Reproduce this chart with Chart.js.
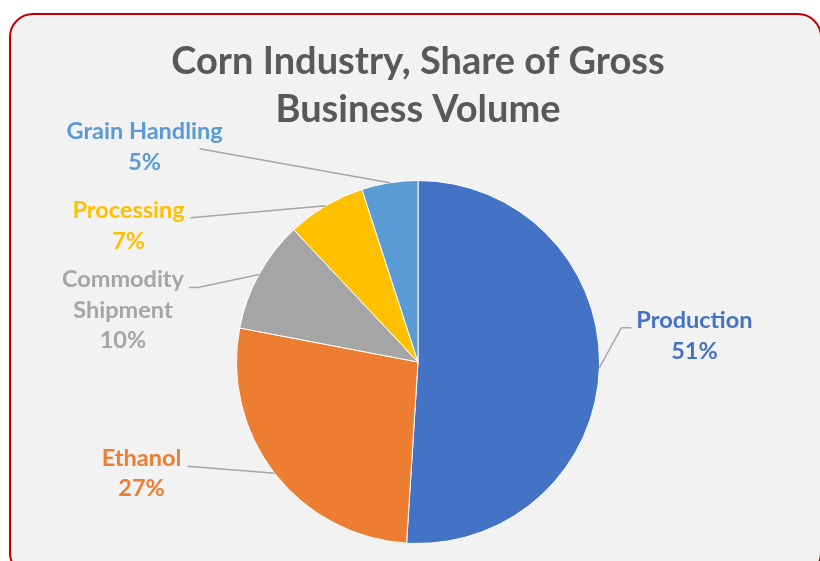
<!DOCTYPE html>
<html>
<head>
<meta charset="utf-8">
<script src="https://cdn.jsdelivr.net/npm/chart.js@4.4.0/dist/chart.umd.min.js"></script>
<style>
  html, body { margin: 0; padding: 0; background: #ffffff; overflow: hidden; }
  #wrap { position: relative; width: 820px; height: 561px; }
  #frame {
    position: absolute; left: 9px; top: 13px; width: 809px; height: 560px;
    border: 2.5px solid #C00000; border-radius: 24px; background: #F2F2F2;
  }
  #c { position: absolute; left: 0; top: 0; }
</style>
</head>
<body>
<div id="wrap">
  <div id="frame"></div>
  <canvas id="c" width="820" height="561"></canvas>
</div>
<script>
// ---- data ----
const categories = ['Production', 'Ethanol', 'Commodity Shipment', 'Processing', 'Grain Handling'];
const shares = [51, 27, 10, 7, 5];
const labelLines = [['Production'], ['Ethanol'], ['Commodity', 'Shipment'], ['Processing'], ['Grain Handling']];
const titleLines = ['Corn Industry, Share of Gross', 'Business Volume'];

// ---- styles ----
const sliceColors = ['#4472C4', '#ED7D31', '#A5A5A5', '#FFC000', '#5B9BD5'];
// label placement relative to the slice's outer edge point at its mid angle
// text: centre of first text line; path: leader points from label toward the edge
const labelPlacement = [
  { text: [95, -47],   path: [[32, -40], [22, -40]] },
  { text: [-133, -15], path: [[-87, -7]] },
  { text: [-136, 5],   path: [[-70, 13], [-61, 13]] },
  { text: [-197, 5],   path: [[-135, 12]] },
  { text: [-245, -51], path: [[-190, -34]] }
];

const labelPlugin = {
  id: 'pieLabels',
  afterDatasetsDraw(chart) {
    const ctx = chart.ctx;
    const meta = chart.getDatasetMeta(0);
    // title
    const cx = (chart.chartArea.left + chart.chartArea.right) / 2;
    ctx.save();
    ctx.fillStyle = '#595959';
    ctx.font = 'bold 38px Lato';
    ctx.textAlign = 'center';
    ctx.textBaseline = 'middle';
    titleLines.forEach((t, i) => ctx.fillText(t, cx, 62 + i * 48));
    ctx.restore();

    meta.data.forEach((arc, i) => {
      const p = arc.getProps(['x', 'y', 'startAngle', 'endAngle', 'outerRadius'], true);
      const mid = (p.startAngle + p.endAngle) / 2;
      const ex = p.x + Math.cos(mid) * p.outerRadius;
      const ey = p.y + Math.sin(mid) * p.outerRadius;
      const pl = labelPlacement[i];
      ctx.save();
      ctx.strokeStyle = '#A6A6A6';
      ctx.lineWidth = 1.5;
      ctx.beginPath();
      pl.path.forEach((pt, k) => {
        if (k === 0) ctx.moveTo(ex + pt[0], ey + pt[1]);
        else ctx.lineTo(ex + pt[0], ey + pt[1]);
      });
      ctx.lineTo(ex, ey);
      ctx.stroke();

      ctx.fillStyle = sliceColors[i];
      ctx.font = 'bold 23.5px Lato';
      ctx.textAlign = 'center';
      ctx.textBaseline = 'middle';
      const lines = labelLines[i].concat([shares[i] + '%']);
      const tx = ex + pl.text[0];
      const ty = ey + pl.text[1];
      lines.forEach((t, k) => ctx.fillText(t, tx, ty + k * 30.5));
      ctx.restore();
    });
  }
};

new Chart(document.getElementById('c'), {
  type: 'pie',
  data: {
    labels: categories,
    datasets: [{
      data: shares,
      backgroundColor: sliceColors,
      borderColor: '#FFFFFF',
      borderWidth: 1
    }]
  },
  options: {
    responsive: false,
    animation: false,
    layout: { padding: { top: 180, bottom: 17, left: 236, right: 220 } },
    plugins: {
      legend: { display: false },
      title: { display: false },
      tooltip: { enabled: false }
    }
  },
  plugins: [labelPlugin]
});
</script>
</body>
</html>
